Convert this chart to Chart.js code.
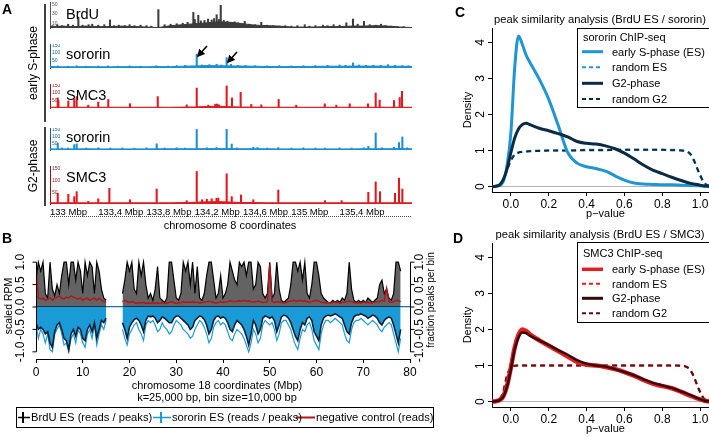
<!DOCTYPE html>
<html>
<head>
<meta charset="utf-8">
<script src="https://cdn.jsdelivr.net/npm/chart.js@4.4.1/dist/chart.umd.min.js"></script>
<style>
  body { margin: 0; width: 709px; height: 437px; overflow: hidden; position: relative; background: #fff;
         font-family: "Liberation Sans", Arial, Helvetica, sans-serif; color: #000; }
  canvas { position: absolute; }
  .t { position: absolute; white-space: nowrap; line-height: 1; }
  .cl { transform: translateY(-50%); }
  .cc { transform: translate(-50%, -50%); }
  .v { transform: translate(-50%, -50%) rotate(-90deg); }
  .panel { font-weight: bold; font-size: 14px; }
  .trk { font-size: 14.5px; }
  svg { position: absolute; left: 0; top: 0; pointer-events: none; }
</style>
</head>
<body>

<!-- panel A: tracks -->
<canvas id="trkBrdU" width="362" height="40" style="left:50px;top:2px"></canvas>
<canvas id="trkSorES" width="362" height="38" style="left:50px;top:44px"></canvas>
<canvas id="trkSmcES" width="362" height="38" style="left:50px;top:84px"></canvas>
<canvas id="trkSorG2" width="362" height="36" style="left:50px;top:128px"></canvas>
<canvas id="trkSmcG2" width="362" height="52" style="left:50px;top:166px"></canvas>

<!-- panel B -->
<canvas id="chr18" width="445" height="130" style="left:0;top:250px"></canvas>

<!-- panels C, D -->
<canvas id="densC" width="300" height="225" style="left:420px;top:0"></canvas>
<canvas id="densD" width="300" height="225" style="left:420px;top:215px"></canvas>

<svg width="709" height="437">
  <defs>
    <marker id="ah" markerWidth="5" markerHeight="5" refX="4" refY="2.5" orient="auto">
      <path d="M0,0 L5,2.5 L0,5 z" fill="#000"/>
    </marker>
  </defs>
  <!-- A: brackets, arrows, dotted coordinate line -->
  <line x1="45" y1="4" x2="45" y2="122" stroke="#000" stroke-width="1.5"/>
  <line x1="45" y1="127" x2="45" y2="206" stroke="#000" stroke-width="1.5"/>
  <line x1="207" y1="46" x2="198" y2="56" stroke="#000" stroke-width="1.6" marker-end="url(#ah)"/>
  <line x1="237" y1="52" x2="228" y2="62" stroke="#000" stroke-width="1.6" marker-end="url(#ah)"/>
  <line x1="50" y1="216.5" x2="412" y2="216.5" stroke="#444" stroke-width="1" stroke-dasharray="1,1"/>
  <!-- B legend -->
  <rect x="16.5" y="407.5" width="417" height="20" fill="none" stroke="#000" stroke-width="1"/>
  <line x1="18" y1="417.5" x2="30" y2="417.5" stroke="#000" stroke-width="1.5"/>
  <line x1="23" y1="412" x2="23" y2="423" stroke="#000" stroke-width="2"/>
  <line x1="153" y1="417.5" x2="171" y2="417.5" stroke="#1b9ad8" stroke-width="1.5"/>
  <line x1="161" y1="412" x2="161" y2="423" stroke="#1b9ad8" stroke-width="2"/>
  <line x1="296" y1="417.5" x2="315" y2="417.5" stroke="#b3151b" stroke-width="2"/>
  <!-- C legend -->
  <rect x="577.5" y="28.5" width="140" height="79" fill="#fff" stroke="#000" stroke-width="1"/>
  <line x1="582" y1="51.7" x2="603" y2="51.7" stroke="#1f95d3" stroke-width="3"/>
  <line x1="582" y1="67.3" x2="603" y2="67.3" stroke="#1f95d3" stroke-width="2" stroke-dasharray="4,3"/>
  <line x1="582" y1="83.3" x2="603" y2="83.3" stroke="#0b2b45" stroke-width="3"/>
  <line x1="582" y1="99" x2="603" y2="99" stroke="#0b2b45" stroke-width="2" stroke-dasharray="4,3"/>
  <!-- D legend -->
  <rect x="577.5" y="242.5" width="140" height="80" fill="#fff" stroke="#000" stroke-width="1"/>
  <line x1="582" y1="269.3" x2="603" y2="269.3" stroke="#e31d23" stroke-width="3.5"/>
  <line x1="582" y1="283.8" x2="603" y2="283.8" stroke="#e31d23" stroke-width="2" stroke-dasharray="4,3"/>
  <line x1="582" y1="298.3" x2="603" y2="298.3" stroke="#3a0808" stroke-width="3"/>
  <line x1="582" y1="313.3" x2="603" y2="313.3" stroke="#5a1010" stroke-width="2" stroke-dasharray="4,3"/>
</svg>

<div class="t panel" style="left:2px;top:2px">A</div>
<div class="t panel" style="left:2px;top:231px">B</div>
<div class="t panel" style="left:455px;top:5px">C</div>
<div class="t panel" style="left:453px;top:231px">D</div>

<div class="t v" style="left:33px;top:63px;font-size:12px">early S-phase</div>
<div class="t v" style="left:33px;top:166px;font-size:12px">G2-phase</div>
<div class="t cl trk" style="left:66px;top:14px">BrdU</div>
<div class="t cl trk" style="left:66px;top:54px">sororin</div>
<div class="t cl trk" style="left:66px;top:95px">SMC3</div>
<div class="t cl trk" style="left:66px;top:137px">sororin</div>
<div class="t cl trk" style="left:66px;top:177px">SMC3</div>
<div class="t cc" style="left:230px;top:225px;font-size:11px">chromosome 8 coordinates</div>

<div class="t v" style="left:8px;top:306px;font-size:10.5px">scaled RPM</div>
<div class="t v" style="left:431px;top:300px;font-size:10px">fraction peaks per bin</div>
<div class="t cc" style="left:217px;top:385px;font-size:11px">chromosome 18 coordinates (Mbp)</div>
<div class="t cc" style="left:217px;top:397px;font-size:11px">k=25,000 bp, bin size=10,000 bp</div>
<div class="t cl" style="left:31px;top:417.5px;font-size:11.2px">BrdU ES (reads / peaks)</div>
<div class="t cl" style="left:172px;top:417.5px;font-size:11.2px">sororin ES (reads / peaks)</div>
<div class="t cl" style="left:316px;top:417.5px;font-size:11.2px">negative control (reads)</div>

<div class="t cc" style="left:600px;top:20px;font-size:11.2px">peak similarity analysis (BrdU ES / sororin)</div>
<div class="t cl" style="left:583px;top:37px;font-size:11px">sororin ChIP-seq</div>
<div class="t cl" style="left:612px;top:51.7px;font-size:11px">early S-phase (ES)</div>
<div class="t cl" style="left:612px;top:67.3px;font-size:11px">random ES</div>
<div class="t cl" style="left:612px;top:83.3px;font-size:11px">G2-phase</div>
<div class="t cl" style="left:612px;top:99px;font-size:11px">random G2</div>

<div class="t cc" style="left:600px;top:235px;font-size:11.2px">peak similarity analysis (BrdU ES / SMC3)</div>
<div class="t cl" style="left:583px;top:253px;font-size:11px">SMC3 ChIP-seq</div>
<div class="t cl" style="left:612px;top:269.3px;font-size:11px">early S-phase (ES)</div>
<div class="t cl" style="left:612px;top:283.8px;font-size:11px">random ES</div>
<div class="t cl" style="left:612px;top:298.3px;font-size:11px">G2-phase</div>
<div class="t cl" style="left:612px;top:313.3px;font-size:11px">random G2</div>

<script>
// ---- panel A: chromosome 8, 133-136 Mbp ----
const trackBinMbp = [133.0, 133.1, 133.2, 133.3, 133.4, 133.5, 133.6, 133.7, 133.8, 133.9,
  134.0, 134.1, 134.2, 134.3, 134.4, 134.5, 134.6, 134.7, 134.8, 134.9,
  135.0, 135.1, 135.2, 135.3, 135.4, 135.5, 135.6, 135.7, 135.8, 135.9, 136.0];
const trackTickMbp = [133.0, 133.4, 133.8, 134.2, 134.6, 135.0, 135.4];
const trackTickLabels = ['133 Mbp', '133,4 Mbp', '133,8 Mbp', '134,2 Mbp', '134,6 Mbp', '135 Mbp', '135,4 Mbp'];
const brduTicks = [10, 20, 30, 40, 50];
const chipTicks = [50, 100, 150];

// background level per 100 kb bin
const brduBase = [3, 4, 3, 4, 3, 3, 4, 3, 2, 1, 5, 7, 9, 11, 13, 12, 9, 6, 5, 4, 2, 2, 2, 3, 3, 4, 4, 5, 4, 2, 1];
const sororinEsBase = [10, 8, 8, 9, 8, 8, 9, 9, 8, 10, 9, 12, 14, 16, 15, 14, 13, 12, 10, 9, 10, 10, 11, 12, 12, 13, 13, 13, 12, 12, 11];
const smc3EsBase = [5, 5, 5, 5, 5, 5, 5, 5, 5, 5, 5, 6, 7, 10, 12, 8, 6, 6, 5, 5, 5, 5, 5, 5, 5, 5, 5, 5, 5, 5, 5];
const sororinG2Base = [8, 8, 8, 9, 8, 8, 8, 8, 8, 9, 9, 9, 9, 10, 10, 10, 9, 9, 9, 8, 8, 8, 8, 8, 8, 8, 9, 9, 9, 10, 9];
const smc3G2Base = [5, 5, 5, 5, 5, 5, 5, 5, 5, 5, 5, 6, 7, 9, 10, 8, 6, 6, 5, 5, 5, 5, 5, 5, 5, 5, 5, 5, 5, 5, 5];

// peaks as [Mbp, height]
const brduPeaks = [[133.02, 5], [133.06, 7], [133.10, 5], [133.15, 8], [133.19, 6], [133.235, 23], [133.27, 6],
  [133.32, 7], [133.35, 8], [133.40, 6], [133.45, 7], [133.497, 17], [133.53, 5], [133.57, 6], [133.62, 5],
  [133.66, 7], [133.70, 5], [133.75, 6], [133.80, 5], [133.84, 4], [133.898, 39], [133.95, 7], [134.00, 8],
  [134.05, 9], [134.10, 10], [134.14, 12], [134.188, 33], [134.20, 18], [134.229, 27], [134.25, 15], [134.28, 16],
  [134.31, 19], [134.34, 17], [134.36, 20], [134.381, 28], [134.40, 18], [134.415, 48], [134.44, 16], [134.47, 14],
  [134.50, 12], [134.53, 13], [134.56, 11], [134.614, 14], [134.65, 8], [134.70, 7], [134.751, 12], [134.80, 6],
  [134.85, 5], [134.90, 4], [134.95, 5], [135.00, 4], [135.05, 5], [135.111, 7], [135.15, 4], [135.20, 5],
  [135.262, 6], [135.30, 5], [135.35, 7], [135.40, 6], [135.456, 11], [135.511, 19], [135.55, 8], [135.602, 14],
  [135.65, 7], [135.70, 6], [135.743, 8], [135.78, 5], [135.83, 4], [135.88, 3], [135.93, 3]];
const sororinEsPeaks = [[133.00, 17], [133.064, 14], [133.15, 12], [133.22, 15], [133.30, 12], [133.40, 13],
  [133.48, 14], [133.56, 12], [133.66, 14], [133.75, 12], [133.88, 15], [133.98, 13], [134.05, 16], [134.12, 18],
  [134.216, 93], [134.26, 20], [134.32, 22], [134.381, 25], [134.42, 20], [134.464, 69], [134.50, 24], [134.56, 18],
  [134.62, 16], [134.70, 15], [134.80, 14], [134.90, 16], [135.00, 14], [135.10, 15], [135.20, 16], [135.30, 18],
  [135.40, 20], [135.45, 18], [135.511, 34], [135.56, 20], [135.62, 18], [135.68, 19], [135.74, 18], [135.801, 22],
  [135.86, 18], [135.92, 16], [135.97, 15]];
const smc3EsPeaks = [[133.064, 67], [133.07, 50], [133.152, 47], [133.201, 57], [133.221, 76], [133.317, 19],
  [133.400, 40], [133.483, 57], [133.663, 29], [133.893, 76], [134.133, 21], [134.216, 133], [134.312, 19],
  [134.37, 24], [134.381, 27], [134.39, 22], [134.40, 20], [134.464, 147], [134.508, 67], [134.580, 105],
  [134.668, 24], [134.751, 21], [134.895, 57], [135.041, 19], [135.277, 28], [135.373, 19], [135.484, 28],
  [135.635, 28], [135.699, 100], [135.732, 53], [135.851, 50], [135.898, 70], [135.917, 111]];
const sororinG2Peaks = [[133.064, 50], [133.10, 15], [133.15, 14], [133.201, 39], [133.221, 45], [133.30, 14],
  [133.40, 16], [133.50, 14], [133.60, 15], [133.70, 13], [133.80, 16], [133.884, 45], [133.95, 15], [134.05, 16],
  [134.12, 14], [134.216, 150], [134.30, 16], [134.38, 18], [134.464, 150], [134.506, 43], [134.55, 15],
  [134.685, 20], [134.72, 18], [134.80, 14], [134.892, 18], [135.00, 14], [135.10, 16], [135.20, 14], [135.279, 14],
  [135.40, 15], [135.50, 14], [135.60, 16], [135.638, 27], [135.699, 124], [135.75, 16], [135.85, 20],
  [135.892, 54], [135.920, 95], [135.96, 16]];
const smc3G2Peaks = [[133.064, 45], [133.152, 41], [133.201, 31], [133.221, 52], [133.317, 11], [133.400, 22],
  [133.492, 66], [133.663, 18], [133.884, 63], [134.133, 14], [134.216, 137], [134.26, 18], [134.30, 20],
  [134.34, 22], [134.38, 24], [134.395, 25], [134.464, 127], [134.506, 31], [134.583, 38], [134.685, 18],
  [134.892, 59], [135.279, 14], [135.417, 14], [135.638, 49], [135.699, 93], [135.735, 52], [135.859, 45],
  [135.892, 109], [135.920, 63]];

// ---- panel B: chromosome 18, 0.5 Mbp steps ----
const chr18Mbp = [0, 0.5, 1, 1.5, 2, 2.5, 3, 3.5, 4, 4.5, 5, 5.5, 6, 6.5, 7, 7.5, 8, 8.5, 9, 9.5,
  10, 10.5, 11, 11.5, 12, 12.5, 13, 13.5, 14, 14.5, 15, 15.5, 16, 16.5, 17, 17.5, 18, 18.5, 19, 19.5,
  20, 20.5, 21, 21.5, 22, 22.5, 23, 23.5, 24, 24.5, 25, 25.5, 26, 26.5, 27, 27.5, 28, 28.5, 29, 29.5,
  30, 30.5, 31, 31.5, 32, 32.5, 33, 33.5, 34, 34.5, 35, 35.5, 36, 36.5, 37, 37.5, 38, 38.5, 39, 39.5,
  40, 40.5, 41, 41.5, 42, 42.5, 43, 43.5, 44, 44.5, 45, 45.5, 46, 46.5, 47, 47.5, 48, 48.5, 49, 49.5,
  50, 50.5, 51, 51.5, 52, 52.5, 53, 53.5, 54, 54.5, 55, 55.5, 56, 56.5, 57, 57.5, 58, 58.5, 59, 59.5,
  60, 60.5, 61, 61.5, 62, 62.5, 63, 63.5, 64, 64.5, 65, 65.5, 66, 66.5, 67, 67.5, 68, 68.5, 69, 69.5,
  70, 70.5, 71, 71.5, 72, 72.5, 73, 73.5, 74, 74.5, 75, 75.5, 76, 76.5, 77, 77.5, 78, 78.5, 79, 79.5,
  80];
const brduReads = [
  0.6, 1.0, 0.8, 1.0, 0.3, 0.2, 1.0, 0.4, 0.25, 0.5,
  0.3, 0.7, 1.0, 1.0, 0.5, 1.0, 1.0, 0.6, 1.0, 0.8,
  0.3, 1.0, 0.7, 1.0, 0.9, 0.3, 1.0, 0.8, 0.4, 0.2,
  0.15, null, null, null, null, null, null, 0.3, 0.6, 1.0,
  0.8, 1.0, 0.4, 0.3, 1.0, 0.7, 1.0, 0.5, 0.2, 0.3,
  0.15, 0.4, 0.9, 0.2, 0.15, 0.1, 0.2, 1.0, 1.0, 0.6,
  0.2, 0.15, 0.3, 1.0, 0.8, 1.0, 0.5, 1.0, 0.3, 0.9,
  0.2, 0.15, 0.3, 0.7, 1.0, 1.0, 0.6, 0.2, 0.3, 0.7,
  0.2, 0.3, 0.5, 1.0, 0.8, 0.6, 0.5, 1.0, 0.9, 1.0,
  0.7, 1.0, 1.0, 0.4, 0.5, 1.0, 0.9, 0.3, 0.2, 0.3,
  1.0, 0.2, 0.3, 1.0, 0.4, 0.15, 0.1, 0.15, 0.2, 0.5,
  1.0, 1.0, 0.8, 1.0, 0.6, 1.0, 0.3, 0.2, 0.5, 1.0,
  1.0, 0.7, 0.3, 0.2, 0.15, 0.1, 0.1, 0.15, 0.1, 0.15,
  0.1, 0.2, 0.15, 0.3, 1.0, 0.4, 0.15, 0.1, 0.15, 0.1,
  0.15, 0.1, 0.2, 0.15, 0.1, 0.15, 0.2, 0.5, 0.6, 0.3,
  0.4, 0.2, 0.15, 0.3, 1.0, 1.0, 0.8, null, null, null,
  null];
const negControl = [
  0.9, 0.2, 0.18, 0.2, 0.15, 0.18, 0.2, 0.15, 0.2, 0.22,
  0.25, 0.2, 0.18, 0.22, 0.2, 0.25, 0.22, 0.2, 0.18, 0.2,
  0.15, 0.18, 0.2, 0.15, 0.18, 0.2, 0.15, 0.2, 0.15, 0.12,
  0.1, null, null, null, null, null, null, 0.12, 0.15, 0.12,
  0.1, 0.12, 0.1, 0.08, 0.1, 0.09, 0.1, 0.08, 0.09, 0.08,
  0.1, 0.08, 0.09, 0.08, 0.1, 0.08, 0.09, 0.1, 0.12, 0.1,
  0.08, 0.09, 0.1, 0.12, 0.1, 0.11, 0.1, 0.12, 0.1, 0.11,
  0.09, 0.1, 0.11, 0.12, 0.13, 0.12, 0.1, 0.09, 0.1, 0.12,
  0.1, 0.11, 0.12, 0.14, 0.13, 0.12, 0.13, 0.14, 0.13, 0.15,
  0.13, 0.14, 0.12, 0.11, 0.12, 0.13, 0.12, 0.1, 0.11, 0.12,
  0.95, 0.12, 0.1, 0.12, 0.11, 0.1, 0.09, 0.1, 0.12, 0.13,
  0.15, 0.14, 0.13, 0.15, 0.13, 0.14, 0.12, 0.11, 0.12, 0.14,
  0.15, 0.13, 0.11, 0.1, 0.09, 0.1, 0.09, 0.1, 0.11, 0.1,
  0.09, 0.1, 0.11, 0.12, 0.14, 0.12, 0.1, 0.09, 0.1, 0.09,
  0.1, 0.11, 0.1, 0.09, 0.1, 0.11, 0.12, 0.12, 0.15, 0.13,
  0.42, 0.12, 0.1, 0.12, 0.15, 0.14, 0.12, null, null, null,
  null];
const sororinReads = [
  -0.4, -0.7, -0.5, -0.6, -0.8, -0.6, -0.95, -1.0, -0.6, -0.5,
  -0.4, -0.6, -0.85, -0.8, -1.0, -0.7, -0.6, -0.8, -0.5, -0.6,
  -0.8, -0.9, -0.6, -0.5, -0.7, -0.4, -0.85, -0.6, -0.4, -0.5,
  -0.3, null, null, null, null, null, null, -0.5, -0.7, -0.85,
  -0.6, -0.5, -0.4, -0.35, -0.5, -0.6, -0.75, -0.4, -0.3, -0.35,
  -0.3, -0.4, -0.55, -0.5, -0.35, -0.45, -0.5, -0.6, -0.55, -0.4,
  -0.3, -0.35, -0.4, -0.5, -0.55, -0.6, -0.7, -0.65, -0.5, -0.4,
  -0.3, -0.35, -0.45, -0.6, -0.8, -0.7, -0.45, -0.35, -0.3, -0.4,
  -0.35, -0.4, -0.55, -0.7, -0.75, -0.6, -0.5, -0.55, -0.6, -0.7,
  -0.85, -1.0, -0.8, -0.5, -0.6, -0.8, -0.7, -0.4, -0.3, -0.35,
  -0.4, -0.35, -0.5, -0.75, -0.6, -0.35, -0.3, -0.3, -0.4, -0.5,
  -0.7, -0.85, -0.95, -0.7, -0.5, -0.55, -0.4, -0.35, -0.5, -0.75,
  -0.85, -0.95, -0.6, -0.4, -0.3, -0.3, -0.35, -0.3, -0.25, -0.3,
  -0.35, -0.4, -0.6, -0.75, -0.8, -0.5, -0.35, -0.3, -0.3, -0.25,
  -0.3, -0.35, -0.4, -0.35, -0.3, -0.35, -0.4, -0.5, -0.55, -0.45,
  -0.4, -0.35, -0.4, -0.6, -0.8, -1.0, -0.7, null, null, null,
  null];
const sororinPeaks = [
  -0.35, -0.5, -0.45, -0.5, -0.6, -0.55, -0.8, -0.9, -0.55, -0.4,
  -0.35, -0.5, -0.7, -0.75, -0.95, -0.6, -0.5, -0.65, -0.45, -0.5,
  -0.7, -0.75, -0.5, -0.4, -0.55, -0.35, -0.7, -0.5, -0.3, -0.35,
  -0.25, null, null, null, null, null, null, -0.35, -0.5, -0.7,
  -0.45, -0.35, -0.28, -0.25, -0.3, -0.4, -0.55, -0.3, -0.2, -0.22,
  -0.2, -0.25, -0.35, -0.3, -0.22, -0.25, -0.3, -0.35, -0.35, -0.25,
  -0.2, -0.2, -0.25, -0.3, -0.35, -0.4, -0.5, -0.45, -0.3, -0.25,
  -0.2, -0.22, -0.28, -0.4, -0.6, -0.5, -0.3, -0.22, -0.2, -0.25,
  -0.22, -0.25, -0.35, -0.5, -0.55, -0.4, -0.3, -0.35, -0.4, -0.5,
  -0.65, -0.85, -0.6, -0.3, -0.4, -0.6, -0.5, -0.25, -0.2, -0.22,
  -0.25, -0.22, -0.3, -0.55, -0.4, -0.22, -0.18, -0.2, -0.25, -0.35,
  -0.5, -0.65, -0.75, -0.5, -0.35, -0.4, -0.25, -0.22, -0.3, -0.55,
  -0.65, -0.75, -0.4, -0.25, -0.2, -0.18, -0.2, -0.18, -0.15, -0.18,
  -0.22, -0.25, -0.4, -0.55, -0.6, -0.35, -0.22, -0.18, -0.18, -0.15,
  -0.18, -0.2, -0.25, -0.22, -0.18, -0.2, -0.25, -0.35, -0.4, -0.3,
  -0.25, -0.22, -0.25, -0.4, -0.6, -0.8, -0.5, null, null, null,
  null];
const chr18Ticks = [0, 10, 20, 30, 40, 50, 60, 70, 80];
const rpmTicks = [-1, -0.5, 0, 0.5, 1];
const rpmTickLabels = ['-1.0', '-0.5', '0.0', '0.5', '1.0'];

// ---- panels C and D: density of p-values ----
const pGrid = [-0.1, -0.08, -0.06, -0.04, -0.02, 0, 0.02, 0.04, 0.06, 0.08, 0.1,
  0.15, 0.2, 0.25, 0.3, 0.35, 0.4, 0.45, 0.5, 0.55, 0.6, 0.65, 0.7, 0.75, 0.8, 0.85, 0.9, 0.95, 1.0,
  1.02, 1.04, 1.06, 1.08, 1.1];
const sororinEsDens = [0, 0.01, 0.03, 0.15, 0.6, 1.5, 3.3, 4.18, 3.95, 3.65, 3.45,
  2.98, 2.42, 1.7, 0.95, 0.65, 0.55, 0.5, 0.43, 0.3, 0.18, 0.1, 0.07, 0.06, 0.05, 0.05, 0.04, 0.03, 0.02,
  0.01, 0.01, 0, 0, 0];
const sororinRandEsDens = [0, 0.02, 0.06, 0.2, 0.5, 0.75, 0.9, 0.95, 0.97, 0.98, 0.99,
  1.0, 1.0, 1.0, 1.0, 1.01, 1.02, 1.02, 1.02, 1.02, 1.02, 1.02, 1.02, 1.02, 1.02, 1.02, 1.01, 0.88, 0.3,
  0.1, 0.03, 0, 0, 0];
const sororinG2Dens = [0, 0.01, 0.05, 0.2, 0.5, 0.95, 1.35, 1.6, 1.72, 1.76, 1.72,
  1.62, 1.55, 1.47, 1.38, 1.25, 1.2, 1.18, 1.13, 1.05, 0.93, 0.77, 0.6, 0.46, 0.36, 0.26, 0.17, 0.09, 0.04,
  0.02, 0.01, 0, 0, 0];
const sororinRandG2Dens = [0, 0.01, 0.05, 0.18, 0.46, 0.72, 0.88, 0.94, 0.96, 0.97, 0.98,
  0.99, 1.0, 1.0, 1.0, 1.0, 1.01, 1.01, 1.01, 1.02, 1.02, 1.02, 1.02, 1.02, 1.02, 1.01, 1.0, 0.9, 0.33,
  0.12, 0.04, 0.01, 0, 0];
const smc3EsDens = [0, 0.01, 0.04, 0.15, 0.45, 0.95, 1.5, 1.85, 2.0, 1.96, 1.87,
  1.7, 1.55, 1.4, 1.25, 1.1, 1.02, 1.0, 0.96, 0.9, 0.82, 0.72, 0.6, 0.5, 0.43, 0.37, 0.27, 0.16, 0.06,
  0.03, 0.01, 0, 0, 0];
const smc3RandEsDens = [0, 0.01, 0.06, 0.3, 0.75, 0.95, 1.0, 1.0, 1.0, 1.0, 1.0,
  1.0, 1.0, 1.0, 1.0, 1.0, 1.0, 1.0, 1.0, 1.0, 1.0, 1.0, 1.0, 1.0, 1.0, 1.0, 1.0, 0.85, 0.25,
  0.08, 0.01, 0, 0, 0];
const smc3G2Dens = [0, 0.01, 0.04, 0.14, 0.42, 0.9, 1.45, 1.78, 1.92, 1.9, 1.83,
  1.7, 1.57, 1.43, 1.3, 1.15, 1.05, 1.0, 0.97, 0.9, 0.82, 0.73, 0.62, 0.52, 0.45, 0.38, 0.28, 0.18, 0.07,
  0.03, 0.01, 0, 0, 0];
const smc3RandG2Dens = [0, 0.01, 0.05, 0.28, 0.72, 0.94, 0.99, 1.0, 1.0, 1.0, 1.0,
  1.0, 1.0, 1.0, 1.0, 1.0, 1.0, 1.0, 1.0, 1.0, 1.0, 1.0, 1.0, 1.0, 1.0, 1.0, 0.99, 0.87, 0.28,
  0.09, 0.02, 0, 0, 0];
const pTicks = [0, 0.2, 0.4, 0.6, 0.8, 1.0];
const pTickLabels = ['0.0', '0.2', '0.4', '0.6', '0.8', '1.0'];
const densityTicks = [0, 1, 2, 3, 4];
const densityTickLabels = ['0', '1', '2', '3', '4'];

const FONT = '"Liberation Sans", Arial, Helvetica, sans-serif';
Chart.defaults.font.family = FONT;
Chart.defaults.color = '#000';

// pins an axis box so charts line up with each other
const pin = (w, h) => (s) => {
  if (w !== null) s.width = w;
  if (h !== null) s.height = h;
  s.paddingLeft = 0; s.paddingRight = 0; s.paddingTop = 0; s.paddingBottom = 0;
};
const setTicks = (vals) => (s) => { s.ticks = vals.map(v => ({ value: v })); };

// R style tick labels, rotated to read upward
function rotatedTicks(axes) {
  return {
    id: 'rotatedTicks',
    afterDraw(chart) {
      const ctx = chart.ctx;
      const area = chart.chartArea;
      axes.forEach(ax => {
        const scale = chart.scales[ax.scaleId];
        const left = ax.side === 'left';
        const x0 = Math.round(left ? area.left : area.right) + 0.5;
        const dir = left ? -1 : 1;
        ctx.save();
        if (ax.line) {
          ctx.strokeStyle = '#000';
          ctx.lineWidth = 1;
          ctx.beginPath();
          ctx.moveTo(x0, scale.getPixelForValue(ax.values[0]));
          ctx.lineTo(x0, scale.getPixelForValue(ax.values[ax.values.length - 1]));
          ax.values.forEach(v => {
            const y = scale.getPixelForValue(v);
            ctx.moveTo(x0, y);
            ctx.lineTo(x0 + dir * 4, y);
          });
          ctx.stroke();
        }
        ctx.fillStyle = '#000';
        ctx.font = ax.font;
        ctx.textAlign = 'center';
        ctx.textBaseline = 'middle';
        ax.values.forEach((v, i) => {
          ctx.save();
          ctx.translate(x0 + dir * ax.offset, scale.getPixelForValue(v));
          ctx.rotate(-Math.PI / 2);
          ctx.fillText(ax.labels[i], 0, 0);
          ctx.restore();
        });
        ctx.restore();
      });
    }
  };
}

function makeTrack(id, base, peaks, color, axisColor, yMax, yTicks, showX) {
  new Chart(document.getElementById(id), {
    type: 'bar',
    data: {
      labels: trackBinMbp,
      datasets: [
        { type: 'bar', data: peaks.map(p => ({ x: p[0], y: p[1] })), backgroundColor: color,
          barThickness: 1.4, order: 0 },
        { type: 'line', data: base, borderColor: color, backgroundColor: color, fill: 'origin',
          borderWidth: 1, pointRadius: 0, tension: 0, order: 1 }
      ]
    },
    options: {
      responsive: false, animation: false, events: [],
      layout: { padding: 0 },
      plugins: { legend: { display: false }, tooltip: { enabled: false } },
      scales: {
        x: {
          type: 'linear', min: 133, max: 136, offset: false, display: showX,
          grid: { display: false, drawTicks: false }, border: { display: false },
          afterBuildTicks: setTicks(trackTickMbp),
          afterFit: pin(null, 14),
          ticks: { align: 'start', autoSkip: false, maxRotation: 0, padding: 3,
                   font: { size: 9.5 }, callback: (v, i) => trackTickLabels[i] }
        },
        y: {
          min: 0, max: yMax,
          grid: { display: false, drawTicks: false },
          border: { display: true, color: axisColor, width: 1 },
          afterBuildTicks: setTicks(yTicks),
          afterFit: pin(0, null),
          ticks: { mirror: true, padding: 2, color: axisColor, font: { size: 5 } }
        }
      }
    }
  });
}

makeTrack('trkBrdU', brduBase, brduPeaks, '#3c3c3c', '#555', 55, brduTicks, false);
makeTrack('trkSorES', sororinEsBase, sororinEsPeaks, '#1b8fd2', '#1a5f8f', 160, chipTicks, false);
makeTrack('trkSmcES', smc3EsBase, smc3EsPeaks, '#e0191e', '#8b1a1a', 160, chipTicks, false);
makeTrack('trkSorG2', sororinG2Base, sororinG2Peaks, '#1b8fd2', '#1a5f8f', 160, chipTicks, false);
makeTrack('trkSmcG2', smc3G2Base, smc3G2Peaks, '#e0191e', '#8b1a1a', 160, chipTicks, true);

// ---- panel B ----
new Chart(document.getElementById('chr18'), {
  type: 'line',
  data: {
    labels: chr18Mbp,
    datasets: [
      { label: 'negative control (reads)', data: negControl, borderColor: '#b3151b', borderWidth: 1.4,
        pointRadius: 0, tension: 0, order: 0 },
      { label: 'sororin ES (peaks)', data: sororinPeaks, yAxisID: 'y2', borderColor: '#0c2236', borderWidth: 1.6,
        backgroundColor: '#1b9ad8', fill: 'origin', pointRadius: 0, tension: 0, order: 1 },
      { label: 'BrdU ES (reads)', data: brduReads, borderColor: '#000', backgroundColor: 'rgba(25,25,25,0.68)',
        fill: 'origin', borderWidth: 1.2, pointRadius: 0, tension: 0, order: 2 },
      { label: 'sororin ES (reads)', data: sororinReads, borderColor: '#1b9ad8', borderWidth: 1.2,
        pointRadius: 0, tension: 0, order: 3 }
    ]
  },
  options: {
    responsive: false, animation: false, events: [],
    layout: { padding: { left: 36, right: 35, top: 5, bottom: 0 } },
    plugins: { legend: { display: false }, tooltip: { enabled: false } },
    scales: {
      x: {
        type: 'linear', min: 0, max: 80,
        afterBuildTicks: setTicks(chr18Ticks),
        afterFit: pin(null, 21),
        grid: { display: true, drawOnChartArea: false, drawTicks: true, tickLength: 4, color: '#000' },
        border: { display: true, color: '#000' },
        ticks: { padding: 2, maxRotation: 0, autoSkip: false, font: { size: 12 } }
      },
      y: {
        min: -1.16, max: 1.16,
        afterBuildTicks: setTicks([0]),
        afterFit: pin(0, null),
        ticks: { display: false },
        border: { display: false },
        grid: { drawTicks: false, lineWidth: 1.2, color: (c) => (c.tick && c.tick.value === 0 ? '#1f6fa8' : 'rgba(0,0,0,0)') }
      },
      y2: { display: false, min: -1.16, max: 1.16 }
    }
  },
  plugins: [rotatedTicks([
    { scaleId: 'y', side: 'left', values: rpmTicks, labels: rpmTickLabels, offset: 16, line: true, font: '12px ' + FONT },
    { scaleId: 'y2', side: 'right', values: rpmTicks, labels: rpmTickLabels, offset: 9, line: true, font: '12px ' + FONT }
  ])]
});

// ---- panels C and D ----
function makeDensity(id, series) {
  new Chart(document.getElementById(id), {
    type: 'line',
    data: {
      labels: pGrid,
      datasets: series.map(s => ({
        label: s.label, data: s.data, borderColor: s.color, borderWidth: s.width,
        borderDash: s.dash ? [5, 4] : [], pointRadius: 0, cubicInterpolationMode: 'monotone', order: s.order
      }))
    },
    options: {
      responsive: false, animation: false, events: [],
      layout: { padding: { left: 37, right: 1, top: 28, bottom: 0 } },
      plugins: { legend: { display: false }, tooltip: { enabled: false } },
      scales: {
        x: {
          type: 'linear', min: -0.1, max: 1.1,
          afterBuildTicks: setTicks(pTicks),
          afterFit: pin(null, 33),
          grid: { display: true, drawOnChartArea: false, drawTicks: true, tickLength: 4, color: '#000' },
          border: { display: true, color: '#000' },
          ticks: { padding: 1, maxRotation: 0, autoSkip: false, font: { size: 12 }, callback: (v, i) => pTickLabels[i] },
          title: { display: true, text: 'p\u2212value', font: { size: 11 }, padding: { top: 0, bottom: 4 } }
        },
        y: {
          min: -0.15, max: 4.4,
          afterBuildTicks: setTicks(densityTicks),
          afterFit: pin(35, null),
          ticks: { display: false },
          border: { display: true, color: '#000' },
          grid: { display: true, drawTicks: true, tickLength: 4, tickColor: '#000',
                  color: (c) => (c.tick && c.tick.value === 0 ? '#b5b5b5' : 'rgba(0,0,0,0)') },
          title: { display: true, text: 'Density', font: { size: 11 }, padding: { top: 4, bottom: 0 } }
        }
      }
    },
    plugins: [rotatedTicks([
      { scaleId: 'y', side: 'left', values: densityTicks, labels: densityTickLabels, offset: 12, line: false, font: '12px ' + FONT }
    ])]
  });
}

makeDensity('densC', [
  { label: 'early S-phase (ES)', data: sororinEsDens, color: '#1f95d3', width: 3, order: 1 },
  { label: 'random ES', data: sororinRandEsDens, color: '#1f95d3', width: 2, dash: true, order: 3 },
  { label: 'G2-phase', data: sororinG2Dens, color: '#0b2b45', width: 3, order: 0 },
  { label: 'random G2', data: sororinRandG2Dens, color: '#0b2b45', width: 2, dash: true, order: 2 }
]);
makeDensity('densD', [
  { label: 'early S-phase (ES)', data: smc3EsDens, color: '#e31d23', width: 4.5, order: 1 },
  { label: 'random ES', data: smc3RandEsDens, color: '#e31d23', width: 2, dash: true, order: 3 },
  { label: 'G2-phase', data: smc3G2Dens, color: '#3a0808', width: 2.5, order: 0 },
  { label: 'random G2', data: smc3RandG2Dens, color: '#5a1010', width: 2, dash: true, order: 2 }
]);
</script>
</body>
</html>
